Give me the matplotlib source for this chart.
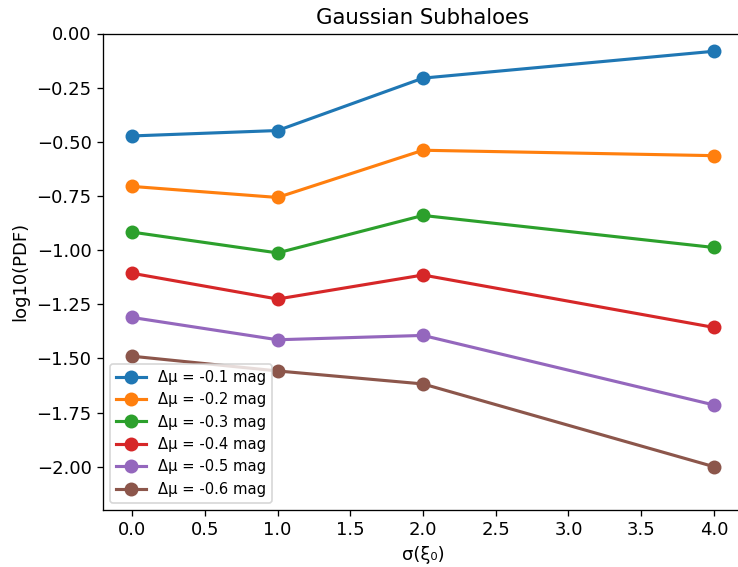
import matplotlib
matplotlib.use("Agg")
import matplotlib.pyplot as plt

sigma = [0, 1, 2, 4]
labels = ["Δμ = -0.1 mag", "Δμ = -0.2 mag", "Δμ = -0.3 mag",
          "Δμ = -0.4 mag", "Δμ = -0.5 mag", "Δμ = -0.6 mag"]
dmu_01 = [-0.473, -0.448, -0.206, -0.082]
dmu_02 = [-0.706, -0.757, -0.539, -0.564]
dmu_03 = [-0.917, -1.013, -0.840, -0.988]
dmu_04 = [-1.107, -1.226, -1.115, -1.357]
dmu_05 = [-1.311, -1.414, -1.394, -1.715]
dmu_06 = [-1.490, -1.558, -1.618, -2.000]
series = [dmu_01, dmu_02, dmu_03, dmu_04, dmu_05, dmu_06]

dpi = 118
fig = plt.figure(figsize=(738 / dpi, 567 / dpi), dpi=dpi)
W, H = 738, 567
ax = fig.add_axes([103 / W, 1 - 510 / H, (743 - 103) / W, (510 - 33.5) / H])

for vals, lab in zip(series, labels):
    ax.plot(sigma, vals, marker="o", markersize=7.5, linewidth=1.9, label=lab)

ax.set_xlim(-0.2, 4.2)
ax.set_ylim(-2.2, 0.0)
ax.set_xticks([0.0, 0.5, 1.0, 1.5, 2.0, 2.5, 3.0, 3.5, 4.0])
ax.set_yticks([0.0, -0.25, -0.5, -0.75, -1.0, -1.25, -1.5, -1.75, -2.0])
ax.tick_params(labelsize=11)
ax.set_xlabel("σ(ξ₀)", fontsize=11)
ax.set_ylabel("log10(PDF)", fontsize=11)
ax.set_title("Gaussian Subhaloes", fontsize=13)
ax.legend(loc="lower left", fontsize=9)

fig.savefig("out.png", dpi=dpi)
